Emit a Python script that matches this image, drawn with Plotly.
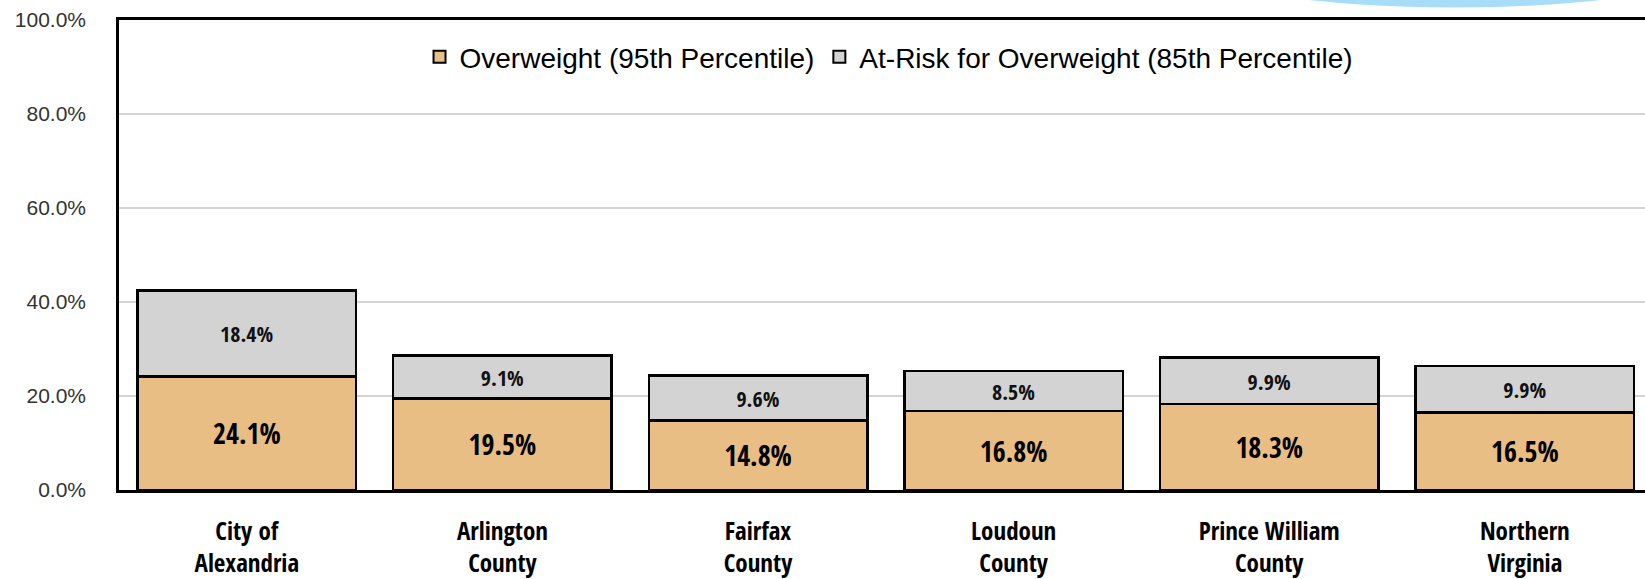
import plotly.graph_objects as go

categories = ["City of<br>Alexandria", "Arlington<br>County", "Fairfax<br>County",
              "Loudoun<br>County", "Prince William<br>County", "Northern<br>Virginia"]
overweight = [24.1, 19.5, 14.8, 16.8, 18.3, 16.5]
at_risk = [18.4, 9.1, 9.6, 8.5, 9.9, 9.9]
y_ticks = [0, 20, 40, 60, 80, 100]
y_tick_text = ["0.0%", "20.0%", "40.0%", "60.0%", "80.0%", "100.0%"]

BOLD = "Open Sans Condensed, Liberation Sans, Arial, sans-serif"
REG = "Liberation Sans, Arial, sans-serif"

fig = go.Figure()
fig.add_trace(go.Bar(
    x=categories, y=overweight, name="Overweight (95th Percentile)",
    marker=dict(color="#E9BE84", line=dict(color="#000000", width=2.5)),
    width=0.855,
    texttemplate="%{y:.1f}%", textposition="inside", insidetextanchor="middle",
    textangle=0, constraintext="none",
    textfont=dict(family=BOLD, size=28, color="#000000", weight="bold"),
))
fig.add_trace(go.Bar(
    x=categories, y=at_risk, name="At-Risk for Overweight (85th Percentile)",
    marker=dict(color="#D3D3D3", line=dict(color="#000000", width=2.5)),
    width=0.855,
    texttemplate="%{y:.1f}%", textposition="inside", insidetextanchor="middle",
    textangle=0, constraintext="none",
    textfont=dict(family=BOLD, size=22, color="#111111", weight="bold"),
))

fig.update_layout(
    barmode="stack",
    width=1645, height=579,
    margin=dict(l=119, r=0, t=20, b=89),
    paper_bgcolor="white", plot_bgcolor="white",
    font=dict(family=REG, color="#000000"),
    showlegend=True,
    legend=dict(
        orientation="h", x=0.5046, xanchor="center", y=0.921, yanchor="middle",
        font=dict(family=REG, size=28, color="#000000"),
        bgcolor="rgba(0,0,0,0)", traceorder="normal", itemsizing="constant",
    ),
    xaxis=dict(
        range=[-0.5, 5.47], showline=True, linecolor="#000000", linewidth=2.5,
        mirror=True, showgrid=False, ticks="", ticklabelstandoff=17, automargin=False,
        tickfont=dict(family=BOLD, size=25, color="#000000", weight="bold"),
    ),
    yaxis=dict(
        range=[0, 100], tickvals=y_ticks, ticktext=y_tick_text,
        showline=True, linecolor="#000000", linewidth=2.5, automargin=False,
        showgrid=True, gridcolor="#D4D4D4", gridwidth=1.5, zeroline=False,
        ticks="", ticklabelstandoff=26,
        tickfont=dict(family=REG, size=21, color="#333333"),
    ),
    shapes=[dict(
        type="circle", xref="paper", yref="paper",
        x0=(1206 - 119) / 1526, x1=(1704 - 119) / 1526,
        y0=1 + 12.5 / 470, y1=1 + 92.5 / 470,
        fillcolor="#A8DDF9", line=dict(width=0), layer="above",
    )],
)

fig.write_html("out.html", config={"displayModeBar": False},
               post_script="document.body.style.margin='0px';")
